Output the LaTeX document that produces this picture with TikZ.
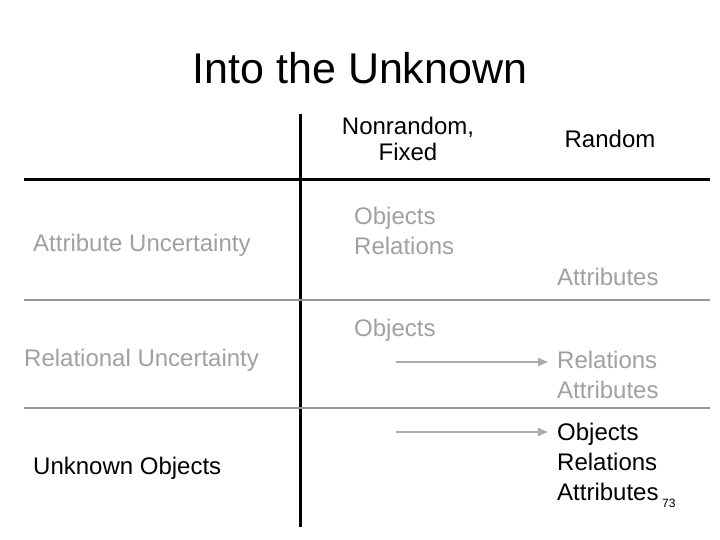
\documentclass[tikz,border=0pt]{standalone}
\usepackage{fontspec}
\usetikzlibrary{arrows.meta}
\setmainfont{Liberation Sans}
\definecolor{faded}{RGB}{160,160,160}
\definecolor{rule}{RGB}{150,150,150}
\begin{document}
\begin{tikzpicture}[x=1pt, y=-1pt,
	cell/.style={anchor=west, inner sep=0pt, align=left, font=\fontsize{24}{30}\selectfont},
	head/.style={inner sep=0pt, align=center, font=\fontsize{24}{26}\selectfont},
	faint/.style={text=faded},
	flow/.style={draw=rule!80, line width=2pt, -{Triangle[length=10pt, width=8pt]}}]
	\useasboundingbox (0,0) rectangle (720,540);
	% Title
	\node[font=\fontsize{43}{48}\selectfont, inner sep=0pt] at (360,68) (title) {Into the Unknown};
	% Grid
	\draw[line width=3pt] (300,114) -- (300,527);
	\draw[line width=3pt] (24,180) -- (710,180);
	\draw[rule, line width=2pt] (24,300) -- (710,300);
	\draw[rule, line width=2pt] (24,408) -- (710,408);
	% Column heads
	\node[head] at (408,139) (fixed) {Nonrandom,\\Fixed};
	\node[head] at (610,139) (rand) {Random};
	% Attribute uncertainty
	\node[cell, faint] at (33,245) (attrunc) {Attribute Uncertainty};
	\node[cell, faint] at (354,231) (fixA) {Objects\\Relations};
	\node[cell, faint] at (557,277) (randA) {Attributes};
	% Relational uncertainty
	\node[cell, faint] at (24,360) (relunc) {Relational Uncertainty};
	\node[cell, faint] at (354,330) (fixR) {Objects};
	\node[cell, faint] at (557,375) (randR) {Relations\\Attributes};
	% Unknown objects
	\node[cell] at (33,468) (unkobj) {Unknown Objects};
	\node[cell] at (557,462) (randU) {Objects\\Relations\\Attributes};
	\node[anchor=west, inner sep=0pt, font=\fontsize{12}{14}\selectfont] at (662,503) (page) {73};
	% Arrows
	\coordinate (fromR) at (396,362);
	\coordinate (toR) at (548,362);
	\coordinate (fromU) at (396,432);
	\coordinate (toU) at (548,432);
	\draw[flow] (fromR) -- (toR);
	\draw[flow] (fromU) -- (toU);
\end{tikzpicture}
\end{document}
